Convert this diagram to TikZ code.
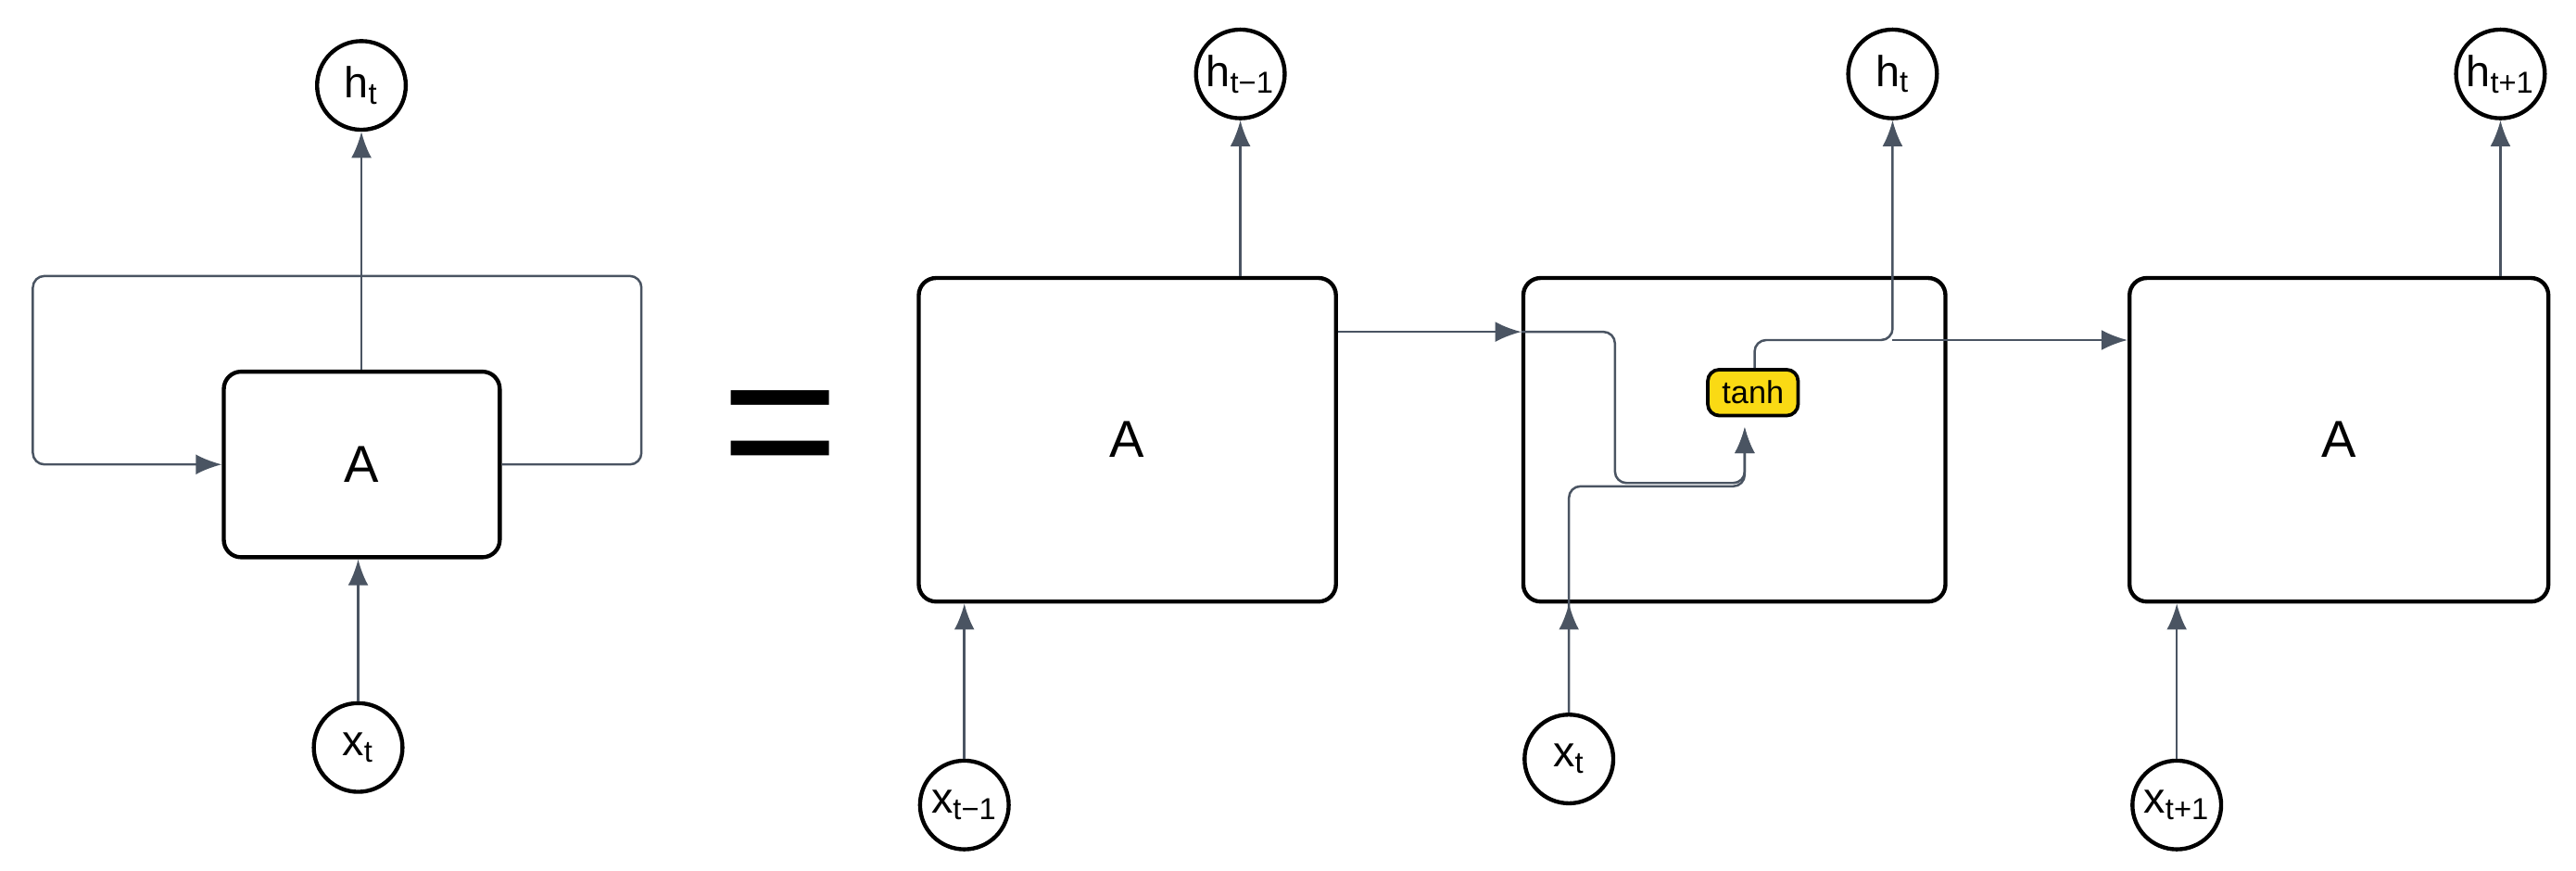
\documentclass[tikz,border=0pt]{standalone}
\usepackage{fontspec}
\setmainfont{Liberation Sans}
\usetikzlibrary{arrows.meta, positioning}

\begin{document}
\begin{tikzpicture}[x=0.02cm, y=-0.02cm]
    \tikzstyle{cell} = [rectangle, draw, line width=1.4pt, rounded corners=6pt, anchor=north west, inner sep=0pt]
    \tikzstyle{io} = [circle, draw, line width=1.4pt, minimum size=1.08cm, inner sep=0pt, font=\fontsize{15}{17}\selectfont]
    \tikzstyle{act} = [rectangle, draw, line width=1.2pt, fill={rgb,255:red,250;green,218;blue,20}, rounded corners=4pt, minimum width=1.1cm, minimum height=0.56cm, inner sep=0pt, font=\fontsize{11}{12}\selectfont]
    \tikzstyle{line} = [draw, color={rgb,255:red,74;green,84;blue,98}, line width=0.8pt, rounded corners=4pt, -{Latex[length=9pt, width=7pt]}]

    \useasboundingbox (0,0) rectangle (1568,530);

    % folded network
    \node [cell, minimum width=3.36cm, minimum height=2.26cm] (fold) at (135,225) {};
    \node [font=\fontsize{18}{20}\selectfont] at (fold.center) {A};
    \node [io] (hfold) at (220,52) {h\textsubscript{t}};
    \node [io] (xfold) at (218,455) {x\textsubscript{t}};
    \path [line] (fold.north -| hfold) -- (hfold);
    \path [line] (xfold) -- (fold.south -| xfold);
    \path [line] (fold.east) -- ++(85,0) |- (220,168) -| (fold.west -| 20,0) -- (fold.west);

    % equals sign
    \node [font=\fontsize{70}{70}\selectfont] (eq) at (475,268) {=};

    % unrolled network
    \node [cell, minimum width=5.08cm, minimum height=3.94cm] (cellA) at (558,168) {};
    \node [font=\fontsize{18}{20}\selectfont] at (cellA.center) {A};
    \node [cell, minimum width=5.14cm, minimum height=3.94cm] (cellB) at (926,168) {};
    \node [cell, minimum width=5.1cm, minimum height=3.94cm] (cellC) at (1295,168) {};
    \node [font=\fontsize{18}{20}\selectfont] at (cellC.center) {A};
    \node [act] (tanh) at (1067,239) {tanh};

    \node [io] (hA) at (755,45) {h\textsubscript{t−1}};
    \node [io] (hB) at (1152,45) {h\textsubscript{t}};
    \node [io] (hC) at (1522,45) {h\textsubscript{t+1}};
    \node [io] (xA) at (587,490) {x\textsubscript{t−1}};
    \node [io] (xB) at (955,462) {x\textsubscript{t}};
    \node [io] (xC) at (1325,490) {x\textsubscript{t+1}};

    \path [line] (cellA.north -| hA) -- (hA);
    \path [line] (cellC.north -| hC) -- (hC);
    \path [line] (xA) -- (cellA.south -| xA);
    \path [line] (xC) -- (cellC.south -| xC);
    \path [line] (xB) -- (cellB.south -| xB);
    \path [line] (cellA.east |- 0,202) -- (cellB.west |- 0,202);
    \path [line] (cellB.west |- 0,202) -| (983,294) -| (1062,260);
    \path [line] (xB.north) -- (955,296) -| (1062,260);
    \path [line] (tanh.north -| 1068,0) |- (1152,207) -- (hB);
    \path [line] (1152,207) -- (cellC.west |- 0,207);
\end{tikzpicture}
\end{document}
